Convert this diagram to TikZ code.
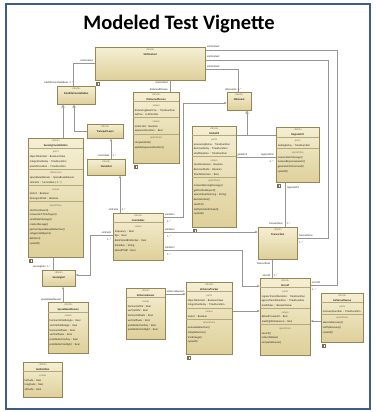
\documentclass[tikz,border=0pt]{standalone}
\usepackage{fontspec}
\setmainfont{Carlito}
\usetikzlibrary{arrows.meta,shadows}

\definecolor{frameblue}{RGB}{62,92,135}
\definecolor{blkfillA}{RGB}{245,239,211}
\definecolor{blkfillB}{RGB}{222,208,154}
\definecolor{blkline}{RGB}{150,134,86}
\definecolor{stereoc}{RGB}{120,110,86}
\definecolor{rulec}{RGB}{182,168,122}
\definecolor{wire}{RGB}{150,150,150}
\definecolor{inkc}{RGB}{40,35,25}

% block compartments
\newcommand\bhead[1]{\centerline{\color{stereoc}«block»}\centerline{\bfseries #1}}
\newcommand\bsec[1]{\par\kern1.3pt\nointerlineskip\hbox{\color{rulec}\vrule width\hsize height .3pt}\centerline{\color{stereoc}#1}}
\newcommand\bat[1]{\hbox{\kern1.5pt #1}}

% #1 name, #2 x, #3 y, #4 width, #5 height, #6 compartments
\newcommand\umlblock[6]{%
  \node[blockbox, minimum width=#4pt, minimum height=#5pt] (#1) at (#2,#3) {};
  \node[blocktext, text width=#4pt] (#1-t) at ([yshift=-1.2pt]#1.north) {\vbox{#6}};
}

\tikzset{
  blockbox/.style={rectangle, anchor=north west, inner sep=0pt, draw=blkline, line width=.5pt,
    top color=blkfillA, bottom color=blkfillB,
    drop shadow={shadow xshift=.8pt, shadow yshift=-.8pt, opacity=.25, fill=black}},
  blocktext/.style={anchor=north, inner sep=0pt, text=inkc, font=\fontsize{2.75}{4.75}\selectfont},
  wire/.style={draw=wire, line width=.55pt},
  gen/.style={-{Triangle[open, length=3pt, width=3.2pt, fill=white]}},
  nav/.style={-{Latex[length=2.6pt, width=2.2pt]}},
  lab/.style={inner sep=0pt, text=inkc, font=\fontsize{2.7}{3.2}\selectfont},
  glyph/.style={draw=stereoc, fill=white, line width=.35pt},
}

\begin{document}
\begin{tikzpicture}[x=1pt, y=-1pt]
\useasboundingbox (0,0) rectangle (375,412);
\fill[white] (0,0) rectangle (375,412);
\draw[frameblue, line width=1.8pt] (6,4) rectangle (370,409);

\node[anchor=base, inner sep=0pt, font=\fontsize{20.5}{24}\selectfont\bfseries] (title) at (179,30) {Modeled Test Vignette};

% ---- blocks ----
\umlblock{SIM}{95}{47}{110}{33}{\bhead{SIMContext}}
\umlblock{SatC}{57}{86}{38}{18}{\bhead{SatelliteConstellation}}
\umlblock{DP}{133}{92}{46}{71}{\bhead{DistancedPerson}\bsec{values}\bat{distancingBaseTime : TimeDuration}\bat{lastPos : LLAPosition}\bsec{values}\bat{isInfected : Boolean}\bat{exposureDuration : Real}\bsec{operations}\bat{computeRisk()}\bat{updateExposureDuration()}}
\umlblock{CEl}{227}{92}{24}{18}{\bhead{CElement}}
\umlblock{TL}{87}{124}{36}{14}{\bhead{TransportLayer}}
\umlblock{SC}{28}{138}{55}{119}{\bhead{SensingConstellation}\bsec{parts}\bat{objectDetected : BooleanValue}\bat{integrationDelay : TimeDuration}\bat{predictDuration : TimeDuration}\bsec{references}\bat{spaceBasedSensor : SpaceBasedSensor}\bat{simFacts : CommsBus [1..*]}\bsec{values}\bat{isAlert : Boolean}\bat{hasLogicalPath : Boolean}\bsec{operations}\bat{startFromEvent()}\bat{receiveFirstTimeTarget()}\bat{sendDataMessage()}\bat{createMessage()}\bat{performSpaceBasedDetection()}\bat{categorizeObjects()}\bat{dataSim()}\bat{cycleAll()}}
\umlblock{CS}{87}{159}{38}{16}{\bhead{CommSat}}
\umlblock{CB}{113}{213}{50}{47}{\bhead{CommsBus}\bsec{values}\bat{frequency : Real}\bat{bps : Real}\bat{dataPacketBitsPerSec : Real}\bat{bitsIndex : String}\bat{pGoodTSQP : Real}}
\umlblock{G2}{192}{126}{44}{101}{\bhead{GlobalC2}\bsec{parts}\bat{processingDelay : TimeDuration}\bat{decisionDelay : TimeDuration}\bat{sendDuration : TimeDuration}\bsec{values}\bat{situationAware : Boolean}\bat{decisionMade : Boolean}\bat{timeToDecision : Real}\bsec{operations}\bat{receiveWarningMessage()}\bat{getPositionReport()}\bat{assessSituation(msg : String)}\bat{decideAction()}\bat{sendC2()}\bat{notifyIncidentClosed()}\bat{cycleAll()}}
\umlblock{R2}{276}{127}{43}{55}{\bhead{RegionalC2}\bsec{parts}\bat{taskingDelay : TimeDuration}\bsec{operations}\bat{receiveAlertMessage()}\bat{receiveResponseAssets()}\bat{generateC2Command()}\bat{cycleAll()}}
\umlblock{TR}{258}{227}{39}{32}{\bhead{Transaction}}
\umlblock{SS}{42}{270}{33}{16}{\bhead{SensingSat}}
\umlblock{SBS}{48}{302}{40}{51}{\bhead{SpaceBasedSensor}\bsec{values}\bat{horizontalFieldAngle : Real}\bat{verticalFieldAngle : Real}\bat{horizontalPixels : Real}\bat{verticalPixels : Real}\bat{probDetectionDay : Real}\bat{probDetectionNight : Real}}
\umlblock{AS}{126}{288}{39}{51}{\bhead{AirborneSensor}\bsec{values}\bat{horizontalFOV : Real}\bat{verticalFOV : Real}\bat{horizontalPixels : Real}\bat{verticalPixels : Real}\bat{probDetectionDay : Real}\bat{probDetectionNight : Real}}
\umlblock{AT}{186}{282}{46}{72}{\bhead{AirborneTracker}\bsec{parts}\bat{objectDetected : BooleanValue}\bat{integrationDelay : TimeDuration}\bsec{values}\bat{isAlert : Boolean}\bsec{operations}\bat{evaluateDetection()}\bat{relayDetection()}\bat{trackImage()}\bat{cycleAll()}}
\umlblock{AC}{260}{278}{50}{77}{\bhead{Aircraft}\bsec{parts}\bat{ingressTransitDuration : TimeDuration}\bat{egressTransitDuration : TimeDuration}\bat{loadStatus : BooleanValue}\bsec{values}\bat{defaultCruiseAlt : Real}\bat{maxFlightEndurance : Real}\bsec{operations}\bat{launch()}\bat{returnToBase()}\bat{computeRescue()}}
\umlblock{AR}{321}{293}{42}{49}{\bhead{AirborneRescue}\bsec{parts}\bat{recoveryDuration : TimeDuration}\bsec{operations}\bat{executeRecovery()}\bat{notifyRecovery()}\bat{cycleAll()}}
\umlblock{LLA}{23}{362}{39}{35}{\bhead{LLAPosition}\bsec{values}\bat{latitude : Real}\bat{longitude : Real}\bat{altitude : Real}}

% small diagram glyphs under some blocks
\foreach \gx/\gy in {96/82, 134/165, 29/259, 193/229, 277/184, 187/356, 322/344}{
  \draw[glyph] (\gx,\gy) rectangle +(3,3.4);
  \draw[stereoc, line width=.25pt] (\gx+.6,\gy+1.2) -- +(1.8,0) (\gx+.6,\gy+2.2) -- +(1.8,0);
}

% ---- connectors ----
\coordinate (gjoin) at (247,135);

\draw[wire] (SIM.west |- 0,63) -| (SatC.north -| 73,0);
\draw[wire] (SIM.south -| 170,0) -- (DP.north -| 170,0);
\draw[wire] (SIM.east |- 0,69) -| (CEl.north -| 238,0);
\draw[wire] (SIM.east |- 0,60) -| (328,238) -- (TR.east |- 0,238);
\draw[wire] (SIM.east |- 0,50) -| (337,285) -- (AC.east |- 0,285);

\draw[wire, gen] (SC.north -| 63,0) -- (SatC.south -| 63,0);
\draw[wire, gen] (TL.west |- 0,131) -| (SatC.south -| 74,0);
\draw[wire, nav] (CS.north -| 111,0) -- (TL.south -| 111,0);
\draw[wire, nav] (CB.north -| 120,0) -- (CS.south -| 120,0);
\draw[wire, nav] (CB.west |- 0,235) -| (90,275) -- (SS.east |- 0,275);
\draw[wire] (SC.south -| 53,0) -- (SS.north -| 53,0);
\draw[wire, nav] (SBS.north -| 63,0) -- (SS.south -| 63,0);

\draw[wire, nav] (CB.east |- 0,217) -| (183,103) -- (CEl.west |- 0,103);
\draw[wire, nav] (CB.east |- 0,232) -- (TR.west |- 0,232);
\draw[wire, nav] (CB.east |- 0,250) -| (242,286) -- (AC.west |- 0,286);

\draw[wire] (G2.east |- 0,157) -- (R2.west |- 0,157);
\draw[wire] (G2.east |- gjoin) -- (R2.west |- gjoin);
\draw[wire, gen] (gjoin) -- (CEl.south -| gjoin);
\draw[wire] (R2.south -| 285,0) -- (TR.north -| 285,0);
\draw[wire] (TR.south -| 272,0) -- (AC.north -| 272,0);

\draw[wire, nav] (AT.east |- 0,311) -- (AC.west |- 0,311);
\draw[wire, nav] (AR.west |- 0,321) -- (AC.east |- 0,321);
\draw[wire, nav] (AS.east |- 0,294) -- (AT.west |- 0,294);

% ---- role labels ----
\node[lab, anchor=base east] (l01) at (93,61) {simContext};
\node[lab, anchor=base west] (l02) at (44,84) {satelliteConstellations\, 1..*};
\node[lab, anchor=base east] (l03) at (168,83) {simContext};
\node[lab, anchor=base east] (l04) at (168,90) {distancedPerson};
\node[lab, anchor=base west] (l05) at (207,67) {simContext};
\node[lab, anchor=base west] (l06) at (225,90) {cElements\, 1..*};
\node[lab, anchor=base west] (l07) at (207,58) {simContext};
\node[lab, anchor=base west] (l08) at (207,48) {simContext};
\node[lab, anchor=base west] (l09) at (299,236) {transactions};
\node[lab, anchor=base west] (l10) at (299,243) {1..*};
\node[lab, anchor=base west] (l11) at (312,283) {aircraft};
\node[lab, anchor=base west] (l12) at (312,290) {1..*};
\node[lab, anchor=base east] (l13) at (109.5,156) {commSats};
\node[lab, anchor=base west] (l14) at (112.5,156) {1..*};
\node[lab, anchor=base east] (l15) at (118.5,210) {simFacts};
\node[lab, anchor=base west] (l16) at (121.5,210) {1..*};
\node[lab, anchor=base east] (l17) at (111.5,233) {simFacts};
\node[lab, anchor=base east] (l18) at (111.5,240) {1..*};
\node[lab, anchor=base east] (l19) at (51,267) {sensingSats\, 1..*};
\node[lab, anchor=base east] (l20) at (61.5,300) {spaceBasedSensor};
\node[lab, anchor=base west] (l21) at (165,215) {simFacts};
\node[lab, anchor=base west] (l22) at (167,222) {1..*};
\node[lab, anchor=base west] (l23) at (165,230) {simFacts};
\node[lab, anchor=base west] (l24) at (167,237) {1..*};
\node[lab, anchor=base west] (l25) at (165,248) {simFacts};
\node[lab, anchor=base west] (l26) at (167,255) {1..*};
\node[lab, anchor=base west] (l27) at (237.5,155) {globalC2};
\node[lab, anchor=base east] (l28) at (274,155) {regionalC2s};
\node[lab, anchor=base east] (l29) at (274,162) {1..*};
\node[lab, anchor=base west] (l30) at (287,188) {regionalC2};
\node[lab, anchor=base east] (l31) at (283,224) {transactions};
\node[lab, anchor=base west] (l32) at (286.5,224) {1..*};
\node[lab, anchor=base east] (l33) at (270.5,264) {transactions};
\node[lab, anchor=base east] (l34) at (270.5,276) {aircraft};
\node[lab, anchor=base west] (l35) at (273.5,276) {1..*};
\node[lab, anchor=base west] (l36) at (166.5,292) {airborneSensors};
\end{tikzpicture}
\end{document}
